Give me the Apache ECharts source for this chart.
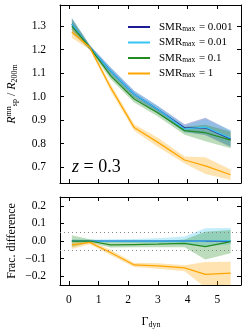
<!DOCTYPE html>
<html><head><meta charset="utf-8">
<script src="https://cdn.jsdelivr.net/npm/echarts@6/dist/echarts.min.js"></script>
<style>html,body{margin:0;padding:0;background:#fff}#c{width:249px;height:331px}</style>
</head><body><div id="c"></div>
<script>
// ---- data ----
const gammaDyn = [0.1, 0.7, 1.4, 2.2, 3.0, 3.9, 4.6, 5.45];
const seriesNames = ['0.001', '0.01', '0.1', '1'];
// top panel: R_sp^mn / R_200m
const ratio001 = [1.31, 1.21, 1.11, 1.01, 0.945, 0.866, 0.868, 0.82];
const ratio001Lo = [1.285, 1.20, 1.095, 0.995, 0.93, 0.85, 0.835, 0.785];
const ratio001Hi = [1.335, 1.22, 1.125, 1.025, 0.96, 0.882, 0.91, 0.855];
const ratio01 = [1.31, 1.21, 1.11, 1.01, 0.945, 0.862, 0.87, 0.823];
const ratio01Lo = [1.285, 1.20, 1.095, 0.995, 0.93, 0.846, 0.84, 0.79];
const ratio01Hi = [1.335, 1.22, 1.125, 1.025, 0.96, 0.878, 0.905, 0.858];
const ratio1 = [1.30, 1.21, 1.09, 0.99, 0.93, 0.855, 0.846, 0.815];
const ratio1Lo = [1.27, 1.20, 1.075, 0.975, 0.915, 0.838, 0.81, 0.78];
const ratio1Hi = [1.33, 1.22, 1.105, 1.005, 0.945, 0.872, 0.88, 0.85];
const ratio10 = [1.275, 1.21, 1.04, 0.868, 0.805, 0.73, 0.705, 0.667];
const ratio10Lo = [1.25, 1.20, 1.025, 0.855, 0.785, 0.715, 0.67, 0.645];
const ratio10Hi = [1.29, 1.22, 1.055, 0.882, 0.825, 0.745, 0.742, 0.69];
// bottom panel: fractional difference
const frac001 = [0, 0, 0, 0, 0, 0, 0, 0];
const frac01 = [0, 0, 0, 0, 0, 0, 0, 0.002];
const frac01Lo = [-0.01, -0.008, -0.01, -0.012, -0.015, -0.022, -0.03, -0.02];
const frac01Hi = [0.01, 0.008, 0.01, 0.012, 0.015, 0.025, 0.072, 0.074];
const frac1 = [0.0, 0.0, -0.022, -0.02, -0.018, -0.013, -0.032, -0.004];
const frac1Lo = [-0.035, -0.01, -0.037, -0.036, -0.035, -0.035, -0.105, -0.07];
const frac1Hi = [0.032, 0.01, -0.005, -0.004, -0.002, 0.008, 0.053, 0.063];
const frac10 = [-0.022, -0.008, -0.065, -0.136, -0.142, -0.153, -0.19, -0.183];
const frac10Lo = [-0.045, -0.018, -0.08, -0.148, -0.158, -0.172, -0.265, -0.27];
const frac10Hi = [0.0, 0.002, -0.05, -0.124, -0.127, -0.138, -0.12, -0.118];
const xTicks = [0, 1, 2, 3, 4, 5];
const topTicks = [0.7, 0.8, 0.9, 1.0, 1.1, 1.2, 1.3];
const botTicks = [-0.2, -0.1, 0.0, 0.1, 0.2];

const colors = ['#1c1c96', '#38c4f2', '#228b22', '#ffa500'];
const FONT = 'Liberation Serif';

function pairs(xs, ys) { return xs.map((x, i) => [x, ys[i]]); }
function band(gi, lo, hi, color, z) {
  return {
    type: 'custom', xAxisIndex: gi * 2, yAxisIndex: gi * 2, z: z, silent: true,
    data: gammaDyn.map((x, i) => [x, lo[i], hi[i]]),
    encode: { x: 0, y: [1, 2] },
    renderItem: function (params, api) {
      if (params.dataIndex !== 0) return null;
      const up = [], dn = [];
      for (let i = 0; i < gammaDyn.length; i++) {
        up.push(api.coord([gammaDyn[i], hi[i]]));
        dn.unshift(api.coord([gammaDyn[i], lo[i]]));
      }
      const cs = params.coordSys;
      return {
        type: 'group',
        clipPath: { type: 'rect', shape: { x: cs.x, y: cs.y, width: cs.width, height: cs.height } },
        children: [{ type: 'polygon', shape: { points: up.concat(dn) }, style: { fill: color, opacity: 0.3 } }]
      };
    }
  };
}
function line(gi, ys, color, name, z) {
  return {
    type: 'line', name: name, xAxisIndex: gi * 2, yAxisIndex: gi * 2, z: z,
    data: pairs(gammaDyn, ys), symbol: 'none', showSymbol: false,
    lineStyle: { color: color, width: 1.25 }, itemStyle: { color: color },
    silent: true, animation: false, clip: true
  };
}
const fmtNum = v => {
  const r = Math.round(v * 10) / 10;
  if (Math.abs(v - r) > 1e-6) return '';
  return r.toFixed(1).replace('-', '\u2212');
};
const fmtInt = v => (Math.abs(v - Math.round(v)) < 1e-6 ? String(Math.round(v)) : '');

function xAx(gi, pos, show) {
  return {
    type: 'value', gridIndex: gi, position: pos, min: -0.3, max: 5.8, splitNumber: 6,
    axisLine: { show: true, onZero: false, lineStyle: { color: '#000', width: 1 } },
    axisTick: { show: true, inside: true, length: 4, lineStyle: { color: '#000' }, customValues: xTicks },
    axisLabel: { show: show, customValues: xTicks, formatter: fmtInt, color: '#000', fontFamily: FONT, fontSize: 11.5, margin: 9 },
    splitLine: { show: false }
  };
}
function yAx(gi, pos, show, min, max, ticks) {
  return {
    type: 'value', gridIndex: gi, position: pos, min: min, max: max,
    axisLine: { show: true, onZero: false, lineStyle: { color: '#000', width: 1 } },
    axisTick: { show: true, inside: true, length: 4, lineStyle: { color: '#000' }, customValues: ticks },
    axisLabel: { show: show, customValues: ticks, formatter: fmtNum, color: '#000', fontFamily: FONT, fontSize: 11.5, margin: 14 },
    splitLine: { show: false }
  };
}

const legendNames = seriesNames.map(s => 'SMR_' + s);
const option = {
  animation: false,
  grid: [
    { left: 60, right: 8, top: 5, height: 178 },
    { left: 60, right: 8, top: 197, height: 88 }
  ],
  xAxis: [xAx(0, 'bottom', false), xAx(0, 'top', false), xAx(1, 'bottom', true), xAx(1, 'top', false)],
  yAxis: [yAx(0, 'left', true, 0.632, 1.39, topTicks), yAx(0, 'right', false, 0.632, 1.39, topTicks),
          yAx(1, 'left', true, -0.25, 0.25, botTicks), yAx(1, 'right', false, -0.25, 0.25, botTicks)],
  legend: {
    orient: 'vertical', left: 123, top: 15, itemWidth: 22, itemHeight: 2, itemGap: 2.5, icon: 'rect',
    data: legendNames,
    formatter: n => '{a|SMR}{s|max}{a| = ' + n.slice(4) + '}',
    textStyle: {
      color: '#000', padding: [0, 0, 0, 4],
      rich: {
        a: { fontFamily: FONT, fontSize: 11, color: '#000', lineHeight: 12 },
        s: { fontFamily: FONT, fontSize: 7.5, color: '#000', verticalAlign: 'bottom', lineHeight: 12, padding: [5, 1, 0, 0] }
      }
    }
  },
  graphic: [
    { type: 'text', left: 72, top: 158, style: { text: '{i|z} = 0.3', fontFamily: FONT, fontSize: 18, fill: '#000',
      rich: { i: { fontFamily: FONT, fontSize: 18, fontStyle: 'italic', fill: '#000' } } } },
    { type: 'text', x: 12, y: 94, rotation: Math.PI / 2,
      style: { text: '{i|R}{sp|mn}{sb|sp} / {i|R}{sb|200m}', fontFamily: FONT, fontSize: 12, fill: '#000', align: 'center', verticalAlign: 'middle',
        rich: {
          i: { fontFamily: FONT, fontSize: 12, fontStyle: 'italic', lineHeight: 14 },
          sp: { fontFamily: FONT, fontSize: 8, verticalAlign: 'top', lineHeight: 14, padding: [0, 0, 6, 0] },
          sb: { fontFamily: FONT, fontSize: 8, verticalAlign: 'bottom', lineHeight: 14, padding: [5, 0, 0, 0] }
        } } },
    { type: 'text', x: 12, y: 241, rotation: Math.PI / 2,
      style: { text: 'Frac. difference', fontFamily: FONT, fontSize: 12, fill: '#000', align: 'center', verticalAlign: 'middle' } },
    { type: 'text', x: 151, y: 322,
      style: { text: '\u0393{sb|dyn}', fontFamily: FONT, fontSize: 12, fill: '#000', align: 'center', verticalAlign: 'middle',
        rich: { sb: { fontFamily: FONT, fontSize: 8, verticalAlign: 'bottom', lineHeight: 14, padding: [5, 0, 0, 0] } } } }
  ],
  series: [
    band(0, ratio001Lo, ratio001Hi, colors[0], 1),
    band(0, ratio01Lo, ratio01Hi, colors[1], 1),
    band(0, ratio1Lo, ratio1Hi, colors[2], 1),
    band(0, ratio10Lo, ratio10Hi, colors[3], 1),
    line(0, ratio001, colors[0], legendNames[0], 3),
    line(0, ratio01, colors[1], legendNames[1], 3),
    line(0, ratio1, colors[2], legendNames[2], 3),
    line(0, ratio10, colors[3], legendNames[3], 3),
    band(1, frac01Lo, frac01Hi, colors[1], 1),
    band(1, frac1Lo, frac1Hi, colors[2], 1),
    band(1, frac10Lo, frac10Hi, colors[3], 1),
    Object.assign(line(1, frac001, colors[0], 'ref', 3), {
      markLine: { silent: true, symbol: 'none', label: { show: false }, animation: false,
        lineStyle: { type: [1, 3], color: '#888', width: 1 }, data: [{ yAxis: 0.05 }, { yAxis: -0.05 }] } }),
    line(1, frac01, colors[1], 'r01', 3),
    line(1, frac1, colors[2], 'r1', 3),
    line(1, frac10, colors[3], 'r10', 3)
  ]
};
const chart = echarts.init(document.getElementById('c'), null, { renderer: 'canvas' });
chart.setOption(option);
</script></body></html>
